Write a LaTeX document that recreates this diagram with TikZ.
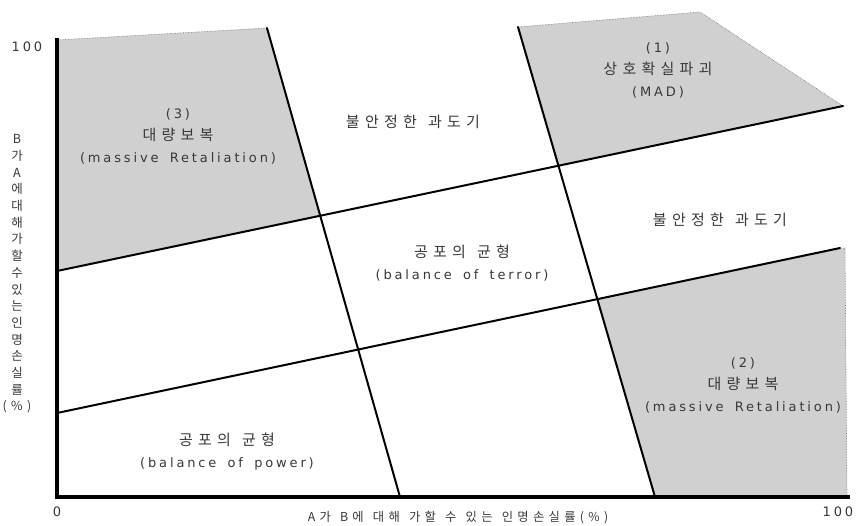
\documentclass[tikz,border=0pt]{standalone}
\usepackage{fontspec}
\setmainfont{DejaVu Sans}[LetterSpace=22, WordSpace=1.6]
\newfontfamily\ko{Noto Sans CJK KR}[LetterSpace=35, WordSpace=1.3]
\usetikzlibrary{positioning}
\definecolor{zonegray}{HTML}{D0D0D0}
\definecolor{labelgray}{HTML}{383838}

\begin{document}
\begin{tikzpicture}[
    x=1pt, y=-1pt,
    zone/.style={fill=zonegray, draw=black!55, densely dotted, line width=0.6pt},
    border/.style={line width=2pt, line cap=round},
    axis/.style={line width=4pt},
    label/.style={font=\fontsize{13}{22}\selectfont, text=labelgray, align=center, inner sep=0pt},
    kolabel/.style={label, font=\ko\fontsize{15}{22}\selectfont},
    tick/.style={font=\fontsize{13}{16}\selectfont, text=labelgray, inner sep=0pt},
    ylab/.style={font=\ko\fontsize{12.5}{16.7}\selectfont, text=labelgray, align=center, inner sep=0pt}
]
\useasboundingbox (0,0) rectangle (856,526);

% Axes
\coordinate (o) at (57,497);
\coordinate (ytop) at (57,38);
\coordinate (xend) at (850,497);

% Boundary lines
\coordinate (l1a) at (267,28);
\coordinate (l1b) at (400,497);
\coordinate (l2a) at (518,27);
\coordinate (l2b) at (655,497);
\coordinate (s1a) at (57,271);
\coordinate (s1b) at (843,106);
\coordinate (s2a) at (57,413);
\coordinate (s2b) at (840,248);

% Crossings
\coordinate (c11) at (320,216);
\coordinate (c12) at (358,350);
\coordinate (c21) at (558,166);
\coordinate (c22) at (597,299);

% Shaded zones
\coordinate (g3) at (57,40);
\coordinate (g1) at (700,12);
\coordinate (g2a) at (845,248);
\coordinate (g2b) at (847,497);
\filldraw[zone] (g3) -- (l1a) -- (c11) -- (s1a) -- cycle;
\filldraw[zone] (l2a) -- (g1) -- (s1b) -- (c21) -- cycle;
\filldraw[zone] (c22) -- (g2a) -- (g2b) -- (l2b) -- cycle;

\draw[border] (l1a) -- (l1b);
\draw[border] (l2a) -- (l2b);
\draw[border] (s1a) -- (s1b);
\draw[border] (s2a) -- (s2b);
\draw[axis] (ytop) -- (o) -- (xend);

% Zone labels
\node[label] (mad) at (658,70) {(1)\\{\ko\fontsize{15}{22}\selectfont 상호확실파괴}\\(MAD)};
\node[label] (ret3) at (178,136) {(3)\\{\ko\fontsize{15}{22}\selectfont 대량보복}\\(massive Retaliation)};
\node[label] (ret2) at (743,385) {(2)\\{\ko\fontsize{15}{22}\selectfont 대량보복}\\(massive Retaliation)};
\node[label] (terror) at (462,263) {{\ko\fontsize{15}{22}\selectfont 공포의 균형}\\(balance of terror)};
\node[label] (power) at (227,452) {{\ko\fontsize{15}{22}\selectfont 공포의 균형}\\(balance of power)};
\node[kolabel] (trans1) at (413,122) {불안정한 과도기};
\node[kolabel] (trans2) at (720,220) {불안정한 과도기};

% Axis labels
\node[tick] (ymax) at (27,47) {100};
\node[tick, below=10pt of o] (zero) {0};
\node[tick] (xmax) at (838,512) {100};
\node[tick, font=\ko\fontsize{12.3}{16}\selectfont] (xlab) at (458,518) {A가 B에 대해 가할 수 있는 인명손실률(\%)};
\node[ylab] (ylab) at (17,274) {B\\가\\A\\에\\대\\해\\가\\할\\수\\있\\는\\인\\명\\손\\실\\률\\(\%)};

\end{tikzpicture}
\end{document}
